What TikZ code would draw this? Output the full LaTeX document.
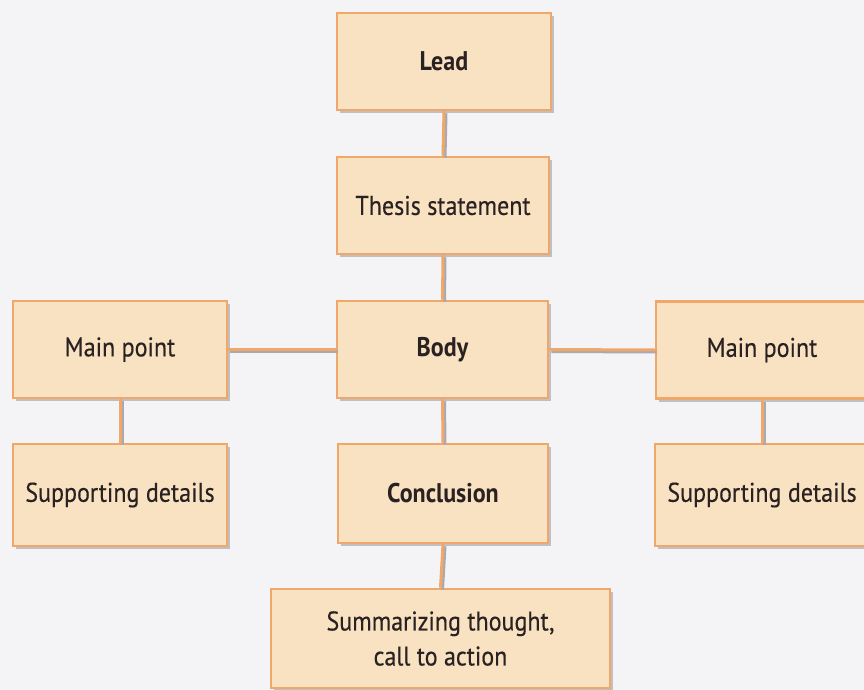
\documentclass[tikz,border=0pt]{standalone}
\usepackage{fontspec}
\setmainfont{PT Sans}[FakeStretch=0.89]
\newfontfamily\regfont{PT Sans}[FakeStretch=0.89, FakeBold=0.35]
\usetikzlibrary{shadows}
\definecolor{bgc}{HTML}{F4F4F6}
\definecolor{boxfill}{HTML}{F8E2C2}
\definecolor{boxline}{HTML}{EFA76A}
\definecolor{txt}{HTML}{2A2222}
\definecolor{shd}{HTML}{A9A9B2}
\tikzset{
  box/.style={draw=boxline, line width=2.5pt, fill=boxfill, text=txt,
    minimum width=#1, minimum height=97pt, inner sep=0pt, align=center,
    font=\fontsize{27}{35}\selectfont\regfont,
    drop shadow={shadow xshift=3pt, shadow yshift=-3pt, fill=shd, opacity=0.7}},
  box/.default=212pt,
  bbox/.style={box=#1, font=\fontsize{27}{35}\selectfont\rmfamily\bfseries},
  bbox/.default=212pt,
  link/.style={draw=boxline, line width=3pt,
    preaction={draw=shd, line width=3pt, transform canvas={xshift=2pt, yshift=-2pt}}}
}
\begin{document}
\begin{tikzpicture}[x=1pt, y=-1pt]
\fill[bgc] (0,0) rectangle (864,690);
\useasboundingbox (0,0) rectangle (864,690);
\node[bbox=214pt] (lead) at (444,61.5) {Lead};
\node[box=212pt] (thesis) at (443,205.5) {Thesis statement};
\node[bbox=211pt] (body) at (442.5,349.5) {Body};
\node[box=214pt] (mainL) at (120,349.5) {Main point};
\node[box=212pt] (mainR) at (762,350) {Main point};
\node[box=214pt, minimum height=102pt] (supL) at (120,495) {Supporting details};
\node[box=214pt, minimum height=102pt] (supR) at (762,495) {Supporting details};
\node[bbox=210pt, minimum height=99pt] (concl) at (443,493.5) {Conclusion};
\node[box=339pt, minimum height=99pt] (summ) at (440.5,638.5) {Summarizing thought,\\call to action};
\path[link] (lead.south) -- (thesis.north);
\path[link] (thesis.south) -- (body.north);
\path[link] (body.west) -- (mainL.east);
\path[link] (body.east) -- (mainR.west);
\path[link] (mainL.south) -- (supL.north);
\path[link] (mainR.south) -- (supR.north);
\path[link] (body.south) -- (concl.north);
\path[link] (concl.south) -- (summ.north);
\end{tikzpicture}
\end{document}
